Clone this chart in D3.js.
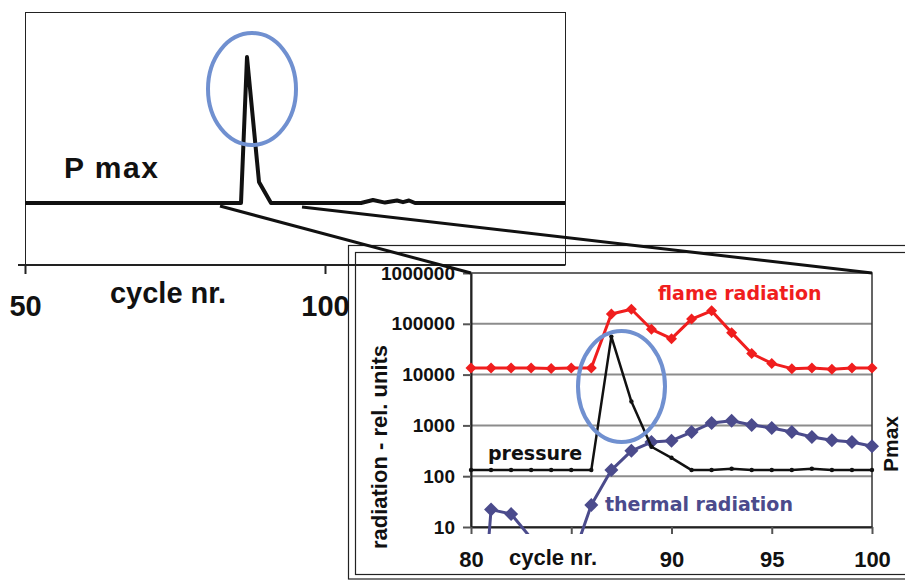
<!DOCTYPE html>
<html>
<head>
<meta charset="utf-8">
<script src="https://cdn.jsdelivr.net/npm/d3@7"></script>
<style>
  body { margin: 0; background: #fff; }
  svg { display: block; }
</style>
</head>
<body>
<svg id="chart" width="905" height="581"></svg>
<script>
// overview chart (P max over cycles 50..140)
const topCycles = [50, 86, 87, 89, 91, 106, 108, 110, 112, 113, 114, 115, 140];
const topPmax = [14.7, 14.7, 49.3, 19.7, 14.7, 14.7, 15.4, 14.8, 15.3, 14.9, 15.3, 14.7, 14.7];
const topTicks = [50, 100];

// zoomed chart, cycles 80..100
const cycles = [80, 81, 82, 83, 84, 85, 86, 87, 88, 89, 90, 91, 92, 93, 94, 95, 96, 97, 98, 99, 100];
const flameRadiation = [13500, 13500, 13500, 13500, 13200, 13500, 13500, 156000, 193000, 78000, 51000,
  124000, 180000, 67000, 26000, 16600, 13100, 13500, 12800, 13500, 13500];
const pressure = [132, 132, 132, 132, 132, 132, 132, 56000, 2950, 380, 230,
  132, 132, 140, 132, 132, 132, 140, 132, 132, 132];
const thermalRadiation = [0.0002, 22, 18, 6, 1, 2, 27, 132, 316, 470, 500,
  740, 1120, 1230, 1020, 890, 740, 590, 510, 470, 390];
const yTicks = [10, 100, 1000, 10000, 100000, 1000000];
const xTicks = [80, 85, 90, 95, 100];

const svg = d3.select("#chart");
const arial = "'Liberation Sans', Arial, sans-serif";
const verdana = "'DejaVu Sans', Verdana, sans-serif";
const red = "#f01e1e";
const purple = "#4b4b8c";
const ringBlue = "#7090d0";

// ---- inset frames (drawn first, the overview box sits on top)
svg.append("rect").attr("x", 348.5).attr("y", 245.5).attr("width", 600).attr("height", 333.5)
  .attr("fill", "none").attr("stroke", "#222").attr("stroke-width", 1.2);
svg.append("rect").attr("x", 355.5).attr("y", 252.5).attr("width", 600).attr("height", 322)
  .attr("fill", "none").attr("stroke", "#222").attr("stroke-width", 1.2);

// ---- overview chart
const xTop = d3.scaleLinear().domain([50, 140]).range([25, 565]);
const yTop = d3.scaleLinear().domain([0, 60]).range([265, 12]);

svg.append("rect").attr("x", 25.5).attr("y", 12.5).attr("width", 540).attr("height", 252.5)
  .attr("fill", "none").attr("stroke", "#222").attr("stroke-width", 1);

const topAxis = svg.append("g")
  .attr("transform", "translate(0,265)")
  .call(d3.axisBottom(xTop).tickValues(topTicks).tickSize(9).tickPadding(21).tickSizeOuter(0));
topAxis.select(".domain").attr("stroke", "#222").attr("stroke-width", 2).attr("d", "M18,0H565");
topAxis.selectAll(".tick line").attr("stroke", "#222").attr("stroke-width", 2);
topAxis.selectAll("text").attr("font-family", arial).attr("font-weight", "bold")
  .attr("font-size", 29).attr("fill", "#111");

svg.append("text").attr("x", 168).attr("y", 303).attr("text-anchor", "middle")
  .attr("font-family", arial).attr("font-weight", "bold").attr("font-size", 29).attr("fill", "#111")
  .text("cycle nr.");
svg.append("text").attr("x", 64).attr("y", 178)
  .attr("font-family", arial).attr("font-weight", "bold").attr("font-size", 30).attr("fill", "#111")
  .attr("letter-spacing", 1.5)
  .text("P max");

svg.append("path").datum(topCycles.map((c, i) => [c, topPmax[i]]))
  .attr("fill", "none").attr("stroke", "#111").attr("stroke-width", 4).attr("stroke-linejoin", "round")
  .attr("d", d3.line().x(d => xTop(d[0])).y(d => yTop(d[1])));

svg.append("ellipse").attr("cx", 252).attr("cy", 89).attr("rx", 44).attr("ry", 56)
  .attr("fill", "none").attr("stroke", ringBlue).attr("stroke-width", 4);

// ---- zoomed chart
const x = d3.scaleLinear().domain([80, 100]).range([471, 872]);
const y = d3.scaleLog().domain([10, 1000000]).range([527, 273]);

const defs = svg.append("defs");
defs.append("clipPath").attr("id", "lineClip")
  .append("rect").attr("x", 455).attr("y", 262).attr("width", 440).attr("height", 272);
defs.append("clipPath").attr("id", "markClip")
  .append("rect").attr("x", 455).attr("y", 262).attr("width", 440).attr("height", 266);

// gridlines
svg.append("g").selectAll("line").data(yTicks.slice(1, 5)).join("line")
  .attr("x1", x(80)).attr("x2", x(100)).attr("y1", d => y(d)).attr("y2", d => y(d))
  .attr("stroke", "#8c8c8c").attr("stroke-width", 2);

svg.append("rect").attr("x", x(80)).attr("y", y(1000000)).attr("width", x(100) - x(80))
  .attr("height", y(10) - y(1000000)).attr("fill", "none").attr("stroke", "#333").attr("stroke-width", 1.5);

const yAxis = svg.append("g").attr("transform", `translate(${x(80)},0)`)
  .call(d3.axisLeft(y).tickValues(yTicks).tickFormat(d3.format("d")).tickSize(8).tickPadding(8).tickSizeOuter(0));
yAxis.select(".domain").attr("stroke", "#222").attr("stroke-width", 2);
yAxis.selectAll(".tick line").attr("stroke", "#555").attr("stroke-width", 2);
yAxis.selectAll("text").attr("font-family", arial).attr("font-weight", "bold")
  .attr("font-size", 19).attr("fill", "#111");

const xAxis = svg.append("g").attr("transform", `translate(0,${y(10)})`)
  .call(d3.axisBottom(x).tickValues(xTicks).tickFormat(d => d === 85 ? "" : d)
    .tickSize(7).tickPadding(17).tickSizeOuter(0));
xAxis.select(".domain").attr("stroke", "#222").attr("stroke-width", 2);
xAxis.selectAll(".tick line").attr("stroke", "#555").attr("stroke-width", 2);
xAxis.selectAll("text").attr("font-family", arial).attr("font-weight", "bold")
  .attr("font-size", 22).attr("fill", "#111");

svg.append("text").attr("x", 553).attr("y", 565).attr("text-anchor", "middle")
  .attr("font-family", arial).attr("font-weight", "bold").attr("font-size", 22).attr("fill", "#111")
  .text("cycle nr.");
svg.append("text").attr("transform", "translate(387,447) rotate(-90)").attr("text-anchor", "middle")
  .attr("font-family", arial).attr("font-weight", "bold").attr("font-size", 22).attr("fill", "#111")
  .text("radiation - rel. units");
svg.append("text").attr("transform", "translate(898,444) rotate(-90)").attr("text-anchor", "middle")
  .attr("font-family", arial).attr("font-weight", "bold").attr("font-size", 21).attr("fill", "#111")
  .text("Pmax");

const line = d3.line().x(d => x(d[0])).y(d => y(d[1]));
const diamond = r => `M0,${-r}L${r},0L0,${r}L${-r},0Z`;

const series = [
  { values: thermalRadiation, color: purple, width: 3, mark: diamond(7) },
  { values: pressure, color: "#111", width: 2.5, dot: 2.2 },
  { values: flameRadiation, color: red, width: 3, mark: diamond(5.5) }
];

series.forEach(s => {
  const pts = cycles.map((c, i) => [c, s.values[i]]);
  svg.append("path").datum(pts).attr("clip-path", "url(#lineClip)")
    .attr("fill", "none").attr("stroke", s.color).attr("stroke-width", s.width)
    .attr("stroke-linejoin", "round").attr("d", line);
  const g = svg.append("g").attr("clip-path", "url(#markClip)");
  if (s.mark) {
    g.selectAll("path").data(pts).join("path")
      .attr("transform", d => `translate(${x(d[0])},${y(d[1])})`)
      .attr("d", s.mark).attr("fill", s.color);
  } else {
    g.selectAll("circle").data(pts).join("circle")
      .attr("cx", d => x(d[0])).attr("cy", d => y(d[1])).attr("r", s.dot).attr("fill", s.color);
  }
});

svg.append("text").attr("x", 658).attr("y", 300)
  .attr("font-family", verdana).attr("font-weight", "bold").attr("font-size", 19).attr("fill", red)
  .text("flame radiation");
svg.append("text").attr("x", 488).attr("y", 460)
  .attr("font-family", verdana).attr("font-weight", "bold").attr("font-size", 19).attr("fill", "#111")
  .text("pressure");
svg.append("text").attr("x", 605).attr("y", 511)
  .attr("font-family", verdana).attr("font-weight", "bold").attr("font-size", 19).attr("fill", purple)
  .text("thermal radiation");

svg.append("ellipse").attr("cx", 621.5).attr("cy", 386.5).attr("rx", 43.5).attr("ry", 55.5)
  .attr("fill", "none").attr("stroke", ringBlue).attr("stroke-width", 4);

// ---- zoom connector lines
const connectors = [[[220, 206], [x(80), y(1000000)]], [[302, 207], [x(100), y(1000000)]]];
svg.append("g").selectAll("line").data(connectors).join("line")
  .attr("x1", d => d[0][0]).attr("y1", d => d[0][1]).attr("x2", d => d[1][0]).attr("y2", d => d[1][1])
  .attr("stroke", "#111").attr("stroke-width", 3);
</script>
</body>
</html>
